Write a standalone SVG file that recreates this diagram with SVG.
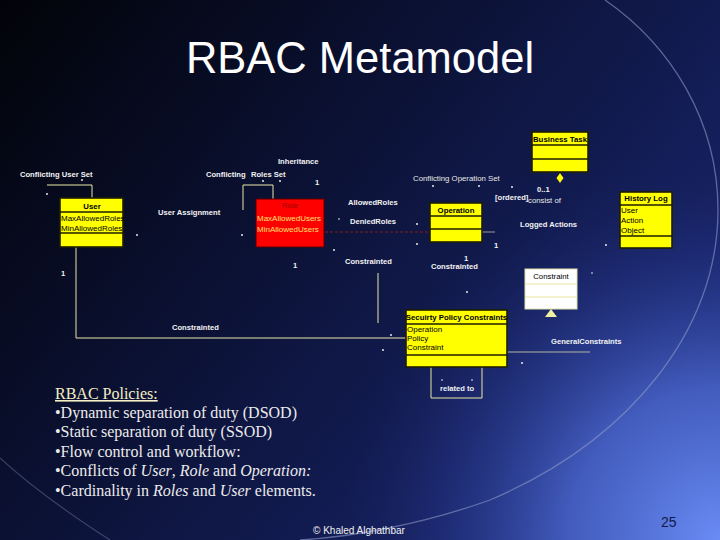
<svg xmlns="http://www.w3.org/2000/svg" width="720" height="540" viewBox="0 0 720 540">
<style>
.lbl{font-family:"Liberation Sans",Arial,sans-serif;font-size:7.6px;font-weight:bold;fill:#f2f2f2}
.thin{font-family:"Liberation Sans",Arial,sans-serif;font-size:7.8px;fill:#e8e8e8}
.hdr{font-family:"Liberation Sans",Arial,sans-serif;font-size:7.8px;font-weight:bold;fill:#000}
.att{font-family:"Liberation Sans",Arial,sans-serif;font-size:8px;fill:#000}
.ybox{fill:#ffff00;stroke:#1e1e00;stroke-width:1.6}
.sep{stroke:#1e1e00;stroke-width:1.6}
.conn{fill:none;stroke:#e8e8a8;stroke-width:1}
.dot{fill:#ffffff}
.pol{font-family:"Liberation Serif","Times New Roman",serif;font-size:16px;fill:#ececec}
</style>
<defs>
<linearGradient id="bg" x1="0" y1="0" x2="1" y2="0.6">
<stop offset="0" stop-color="#020308"/>
<stop offset="0.45" stop-color="#0b1133"/>
<stop offset="1" stop-color="#18246a"/>
</linearGradient>
<radialGradient id="glow" cx="720" cy="540" r="380" gradientUnits="userSpaceOnUse">
<stop offset="0" stop-color="#6a8cf5" stop-opacity="1"/>
<stop offset="0.4" stop-color="#4a66cc" stop-opacity="0.85"/>
<stop offset="0.75" stop-color="#2a3c94" stop-opacity="0.35"/>
<stop offset="1" stop-color="#1a2560" stop-opacity="0"/>
</radialGradient>
</defs>
<g id="background">
<rect x="0" y="0" width="720" height="540" fill="url(#bg)"/>
<rect x="0" y="0" width="720" height="540" fill="url(#glow)"/>
<path d="M605,0 C670,45 718,120 718,210 C718,330 630,440 490,500 C420,525 350,537 300,540" fill="none" stroke="#8e9ac8" stroke-opacity="0.6" stroke-width="1.3"/>
<path d="M0,458 Q40,495 110,540" fill="none" stroke="#8e9ac8" stroke-opacity="0.35" stroke-width="1.2"/>
</g>
<text id="title" x="360" y="73" text-anchor="middle" font-family="'Liberation Sans',Arial,sans-serif" font-size="43.5" fill="#ffffff">RBAC Metamodel</text>
<g id="connectors">
<polyline class="conn" points="47,185 92,185 92,198"/>
<polyline class="conn" points="243,210 243,185 273,185 273,199"/>
<polyline class="conn" points="76,247 76,338 406,338"/>
<line class="conn" x1="378" y1="273" x2="378" y2="323" stroke="#c8c8a0"/>
<line x1="325" y1="232" x2="430" y2="232" stroke="#8a1a1a" stroke-width="1" stroke-dasharray="3,2"/>
<line x1="482" y1="232" x2="495" y2="232" stroke="#9a9a9a" stroke-width="1"/>
<line x1="507" y1="352" x2="590" y2="352" stroke="#b4b4a0" stroke-width="1"/>
<polyline class="conn" points="431,367 431,398 482,398 482,367"/>
<polygon points="560,173 563.5,178 560,183 556.5,178" fill="#ffff00"/>
<polygon points="551,309 557,317 545,317" fill="#f2f0a0"/>
</g>
<g id="node-user">
<rect class="ybox" x="60" y="198" width="63" height="49"/>
<line class="sep" x1="60" y1="212" x2="123" y2="212"/>
<line class="sep" x1="60" y1="233" x2="123" y2="233"/>
<text class="hdr" x="92" y="209" text-anchor="middle">User</text>
<text class="att" x="61" y="221">MaxAllowedRoles</text>
<text class="att" x="61" y="231">MinAllowedRoles</text>
</g>
<g id="node-role">
<rect x="256" y="199" width="68" height="48" fill="#ff0000" stroke="#5a0000" stroke-width="1"/>
<text class="hdr" x="290" y="208" text-anchor="middle" style="fill:#a00000;font-weight:normal">Role</text>
<text class="att" x="257" y="221" style="fill:#ffe070">MaxAllowedUsers</text>
<text class="att" x="257" y="232" style="fill:#ffe070">MinAllowedUsers</text>
</g>
<g id="node-operation">
<rect class="ybox" x="430" y="203" width="52" height="39"/>
<line class="sep" x1="430" y1="216" x2="482" y2="216"/>
<line class="sep" x1="430" y1="229" x2="482" y2="229"/>
<text class="hdr" x="456" y="213" text-anchor="middle">Operation</text>
</g>
<g id="node-business-task">
<rect class="ybox" x="532" y="132" width="56" height="40"/>
<line class="sep" x1="532" y1="145" x2="588" y2="145"/>
<line class="sep" x1="532" y1="159" x2="588" y2="159"/>
<text class="hdr" x="560" y="142" text-anchor="middle">Business Task</text>
</g>
<g id="node-history-log">
<rect class="ybox" x="620" y="192" width="52" height="56"/>
<line class="sep" x1="620" y1="205" x2="672" y2="205"/>
<line class="sep" x1="620" y1="236" x2="672" y2="236"/>
<text class="hdr" x="646" y="201" text-anchor="middle">History Log</text>
<text class="att" x="621" y="213">User</text>
<text class="att" x="621" y="223">Action</text>
<text class="att" x="621" y="233">Object</text>
</g>
<g id="node-constraint">
<rect x="525" y="269" width="52" height="40" fill="#ffffff" stroke="#e0e0b0" stroke-width="1"/>
<line x1="525" y1="284" x2="577" y2="284" stroke="#e6e6a0" stroke-width="1"/>
<line x1="525" y1="297" x2="577" y2="297" stroke="#e6e6a0" stroke-width="1"/>
<text class="hdr" x="551" y="279" text-anchor="middle" style="font-weight:normal">Constraint</text>
</g>
<g id="node-security-policy">
<rect class="ybox" x="406" y="310" width="101" height="57"/>
<line class="sep" x1="406" y1="324" x2="507" y2="324"/>
<line class="sep" x1="406" y1="355" x2="507" y2="355"/>
<text class="hdr" x="456.5" y="320" text-anchor="middle">Secuirty Policy Constraints</text>
<text class="att" x="407" y="332">Operation</text>
<text class="att" x="407" y="341">Policy</text>
<text class="att" x="407" y="350">Constraint</text>
</g>
<g id="labels">
<text class="lbl" x="278" y="164">Inheritance</text>
<text class="lbl" x="20" y="177">Conflicting User Set</text>
<text class="lbl" x="206" y="177">Conflicting</text>
<text class="lbl" x="251" y="177">Roles Set</text>
<text class="lbl" x="315" y="185">1</text>
<text class="lbl" x="158" y="215">User Assignment</text>
<text class="lbl" x="348" y="205">AllowedRoles</text>
<text class="lbl" x="350" y="224">DeniedRoles</text>
<text class="lbl" x="345" y="264">Constrainted</text>
<text class="lbl" x="293" y="268">1</text>
<text class="thin" x="413" y="181">Conflicting Operation Set</text>
<text class="lbl" x="537" y="192">0..1</text>
<text class="lbl" x="495" y="200">[ordered]</text>
<text class="thin" x="528" y="203">consist of</text>
<text class="lbl" x="520" y="227">Logged Actions</text>
<text class="lbl" x="494" y="248">1</text>
<text class="lbl" x="464" y="261">1</text>
<text class="lbl" x="431" y="269">Constrainted</text>
<text class="lbl" x="61" y="276">1</text>
<text class="lbl" x="172" y="330">Constrainted</text>
<text class="lbl" x="551" y="344">GeneralConstraints</text>
<text class="lbl" x="440" y="391">related to</text>
</g>
<g id="multiplicity-marks">
<circle class="dot" cx="47" cy="194" r="0.9"/>
<circle class="dot" cx="82" cy="180" r="0.9"/>
<circle class="dot" cx="137" cy="235" r="0.9"/>
<circle class="dot" cx="242" cy="235" r="0.9"/>
<circle class="dot" cx="263" cy="181" r="0.9"/>
<circle class="dot" cx="280" cy="181" r="0.9"/>
<circle class="dot" cx="339" cy="219" r="0.8"/>
<circle class="dot" cx="334" cy="250" r="0.9"/>
<circle class="dot" cx="417" cy="224" r="0.9"/>
<circle class="dot" cx="417" cy="244" r="0.9"/>
<circle class="dot" cx="433" cy="186" r="0.9"/>
<circle class="dot" cx="479" cy="186" r="0.9"/>
<circle class="dot" cx="512" cy="187" r="0.9"/>
<circle class="dot" cx="606" cy="245" r="0.9"/>
<circle class="dot" cx="467" cy="292" r="0.9"/>
<circle class="dot" cx="592" cy="273" r="0.8"/>
<circle class="dot" cx="391" cy="335" r="0.9"/>
<circle class="dot" cx="383" cy="350" r="0.9"/>
<circle class="dot" cx="522" cy="363" r="0.9"/>
<circle class="dot" cx="442" cy="380" r="0.8"/>
<circle class="dot" cx="472" cy="380" r="0.8"/>
</g>
<g id="policies">
<text class="pol" x="55" y="399" style="fill:#f6f0c6;text-decoration:underline">RBAC Policies:</text>
<text class="pol" x="55" y="418">•Dynamic separation of duty (DSOD)</text>
<text class="pol" x="55" y="437">•Static separation of duty (SSOD)</text>
<text class="pol" x="55" y="457">•Flow control and workflow:</text>
<text class="pol" x="55" y="476">•Conflicts of <tspan font-style="italic">User</tspan>, <tspan font-style="italic">Role</tspan> and <tspan font-style="italic">Operation:</tspan></text>
<text class="pol" x="55" y="496">•Cardinality in <tspan font-style="italic">Roles</tspan> and <tspan font-style="italic">User</tspan> elements.</text>
</g>
<text id="footer" x="313" y="534" font-family="'Liberation Sans',Arial,sans-serif" font-size="10" fill="#f0f0f0">© Khaled Alghathbar</text>
<text id="page-number" x="661" y="527" font-family="'Liberation Sans',Arial,sans-serif" font-size="14" fill="#121a48">25</text>
</svg>
